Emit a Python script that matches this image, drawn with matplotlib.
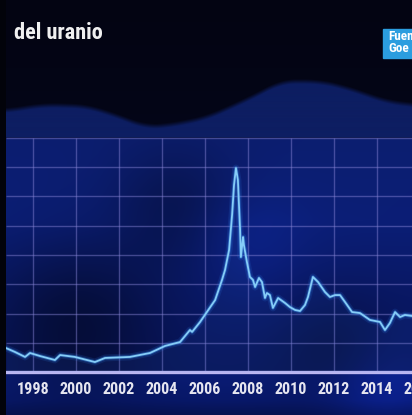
#!/usr/bin/env python3
"""Uranium spot price - dark blue TV style chart"""
import numpy as np
import matplotlib.pyplot as plt
from matplotlib.patches import Rectangle

# price (year, price units)
years = [1996.74, 1997.16, 1997.63, 1997.86, 1998.33, 1999.02, 1999.26, 1999.95,
         2000.88, 2001.35, 2002.51, 2003.44, 2004.14, 2004.84, 2005.30, 2005.40,
         2005.77, 2006.47, 2006.79, 2006.93, 2007.12, 2007.26, 2007.35, 2007.44,
         2007.53, 2007.63, 2007.67, 2007.77, 2007.81, 2007.95, 2008.09, 2008.23,
         2008.33, 2008.51, 2008.65, 2008.79, 2008.88, 2009.02, 2009.16, 2009.40,
         2009.72, 2009.95, 2010.19, 2010.42, 2010.65, 2010.79, 2011.02, 2011.26,
         2011.58, 2011.81, 2012.05, 2012.28, 2012.51, 2012.84, 2013.21, 2013.67,
         2014.14, 2014.37, 2014.60, 2014.84, 2015.07, 2015.30, 2015.63]
price = [16.4, 13.7, 10.3, 13.0, 10.9, 8.2, 11.6, 10.3,
         6.8, 9.6, 10.3, 13.0, 17.8, 20.5, 28.7, 27.4,
         34.2, 49.2, 62.9, 69.7, 83.4, 107.4, 127.9, 139.5,
         131.3, 98.0, 78.6, 92.3, 86.8, 75.2, 65.0, 63.0,
         58.1, 64.3, 61.5, 50.6, 54.0, 52.6, 43.8, 50.6,
         47.2, 44.4, 42.4, 41.7, 45.8, 51.3, 65.0, 61.5,
         54.7, 51.3, 52.6, 52.6, 47.9, 41.0, 40.3, 35.6,
         34.2, 28.7, 33.5, 41.0, 37.6, 39.0, 38.3]

tick_years = [1998, 2000, 2002, 2004, 2006, 2008, 2010, 2012, 2014, 2016]
grid_levels = [20, 40, 60, 80, 100, 120, 140, 160]

# background "hills" behind the grid (year, height in price units)
hill_years = [1996.74, 1998.5, 2000.5, 2002.0, 2003.2, 2004.3, 2006.0, 2007.4,
              2008.8, 2009.5, 2011.3, 2012.5, 2014.5, 2016.9]
hill_top = [180.0, 184.0, 183.0, 176.0, 169.0, 170.0, 175.0, 184.0,
            194.0, 200.0, 200.0, 196.0, 186.0, 182.0]

title = 'del uranio'
source_lines = ['Fuente:', 'Goe']

FONT = ['Roboto Condensed', 'Liberation Sans Narrow', 'Liberation Sans', 'DejaVu Sans']
W, H = 412, 415
PX_X = 21.5      # pixels per year
PX_Y = 1.4625    # pixels per price unit
BASE = 372       # pixel row of the zero line

fig = plt.figure(figsize=(W / 100, H / 100), dpi=100)
fig.patch.set_facecolor('#02030a')

NC = 434
ax = fig.add_axes([6 / W, 0, NC / W, 1])
x0 = 1998 - 27 / PX_X
x1 = x0 + NC / PX_X
y0 = (BASE - H) / PX_Y
y1 = BASE / PX_Y
ax.set_xlim(x0, x1)
ax.set_ylim(y0, y1)
ax.axis('off')

# background image built row by row (pixel rows, top to bottom)
rows = np.arange(H)[:, None]
colx = np.arange(NC)[None, :]
stops = [0, 137, 139, 220, 300, 370, 374, 400, 415]
cols = np.array([[3, 4, 18], [4, 6, 24], [12, 30, 112], [11, 30, 118], [9, 24, 100],
                 [8, 20, 88], [10, 28, 118], [8, 24, 105], [6, 18, 80]]) / 255
grad = np.stack([np.interp(np.arange(H), stops, cols[:, i]) for i in range(3)], axis=-1)
img = np.repeat(grad[:, None, :], NC, axis=1)

# soft-edged hill between the dark sky and the grid
hx = (np.array(hill_years) - x0) * PX_X
hy = BASE - np.array(hill_top) * PX_Y
top = np.interp(np.arange(NC), hx, hy)
top = np.convolve(np.pad(top, 15, mode='edge'), np.ones(31) / 31, mode='valid')
a = np.clip((rows - top[None, :]) / 5.0, 0, 1) * (rows < 138)
hill_col = np.array([13, 30, 98]) / 255
img = img * (1 - a[..., None]) + hill_col * a[..., None]

# a few soft dark / light patches in the blue area
def blob(cx, cy, r):
    return np.exp(-((colx - cx) ** 2 + (rows - cy) ** 2) / (2 * r ** 2))

shade = 1 - 0.4 * blob(70, 320, 55) - 0.3 * blob(170, 210, 45) - 0.25 * blob(330, 350, 40)
shade = shade + 0.35 * blob(375, 400, 40) + 0.2 * blob(240, 250, 40)
blue = (rows >= 138)
img = np.where(blue[..., None], np.clip(img * shade[..., None], 0, 1), img)
ax.imshow(img, extent=[x0, x1, y0, y1], aspect='auto', origin='upper', zorder=0)

# grid
ax.hlines(grid_levels, x0, x1, color='#8a86d8', lw=1, alpha=0.45, zorder=2)
ax.vlines(tick_years, 0, 160, color='#8a86d8', lw=1, alpha=0.45, zorder=2)
ax.axhline(0, color='#bdb8f2', lw=2.4, zorder=3)

# price line with glow
ax.fill_between(years, 0, price, color='#3a7ae0', alpha=0.08, lw=0, zorder=3)
ax.plot(years, price, color='#2f7ee8', lw=5, alpha=0.15, zorder=4)
ax.plot(years, price, color='#3d95f0', lw=2.6, alpha=0.4, zorder=4)
ax.plot(years, price, color='#86cdf8', lw=1.3, zorder=5)

for yr in tick_years:
    ax.text(yr, (BASE - 389) / PX_Y, str(yr), ha='center', va='center',
            color='#e6e6f0', fontsize=11.5, fontweight='bold', family=FONT, zorder=6)

fig.text(14 / W, 1 - 33 / H, title, ha='left', va='center', color='#f0f0f0',
         fontsize=16, fontweight='bold', family=FONT)

fig.patches.append(Rectangle((383 / W, 1 - 58 / H), 40 / W, 29 / H,
                             transform=fig.transFigure, color='#2b9ddf', zorder=5))
fig.text(388 / W, 1 - 37 / H, source_lines[0], ha='left', va='center',
         color='white', fontsize=9.5, fontweight='bold', family=FONT, zorder=6)
fig.text(388 / W, 1 - 49 / H, source_lines[1], ha='left', va='center',
         color='white', fontsize=9.5, fontweight='bold', family=FONT, zorder=6)

fig.savefig('out.png', dpi=100, facecolor=fig.get_facecolor())
plt.close(fig)
